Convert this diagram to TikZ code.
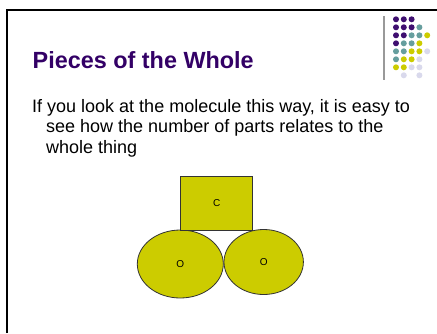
\documentclass[tikz,border=0pt]{standalone}
\usepackage{fontspec}
\setmainfont{Liberation Sans}
\usetikzlibrary{shapes.geometric}
\definecolor{slidePurple}{HTML}{330066}
\definecolor{dotPurple}{HTML}{3F0F70}
\definecolor{dotTeal}{HTML}{669E9E}
\definecolor{dotYellow}{HTML}{CCCC00}
\definecolor{dotLav}{HTML}{D9D9EC}
\definecolor{atomFill}{HTML}{CCCC00}

\begin{document}
\begin{tikzpicture}[x=1pt,y=-1pt,
  titleText/.style={anchor=base west,inner sep=0pt,text=slidePurple,font=\fontsize{23.4}{28}\selectfont\bfseries},
  bodyText/.style={anchor=base west,inner sep=0pt,font=\fontsize{18}{20}\selectfont},
  atomBox/.style={rectangle,draw=black!80,line width=0.8pt,fill=atomFill,inner sep=0pt,font=\fontsize{10}{12}\selectfont},
  atomBall/.style={ellipse,draw=black!80,line width=0.8pt,fill=atomFill,inner sep=0pt,font=\fontsize{10}{12}\selectfont}
]
\useasboundingbox[fill=white] (0,0) rectangle (437,333);
% slide frame and corner decoration
\draw[line width=2pt] (7,333) -- (7,10) -- (437,10);
\draw[line width=2pt,black!40] (384,16) -- (384,80);
\foreach \c/\r/\col in {1/1/dotPurple,2/1/dotPurple,3/1/dotPurple,
    1/2/dotPurple,2/2/dotPurple,3/2/dotPurple,4/2/dotTeal,
    1/3/dotPurple,2/3/dotPurple,3/3/dotTeal,4/3/dotTeal,5/3/dotYellow,
    1/4/dotPurple,2/4/dotTeal,3/4/dotTeal,4/4/dotYellow,
    1/5/dotTeal,2/5/dotTeal,3/5/dotYellow,4/5/dotYellow,5/5/dotLav,
    1/6/dotTeal,2/6/dotYellow,3/6/dotYellow,4/6/dotLav,
    1/7/dotYellow,2/7/dotYellow,3/7/dotLav,4/7/dotLav,
    2/8/dotLav,4/8/dotLav}
  \fill[\col] ({388.2+7.8*\c},{11.3+8*\r}) circle (3pt);
% text
\node[titleText] (title) at (32.5,68) {Pieces of the Whole};
\node[bodyText] (line1) at (32,112.3) {If you look at the molecule this way, it is easy to};
\node[bodyText] (line2) at (46,132.7) {see how the number of parts relates to the};
\node[bodyText] (line3) at (46,153.3) {whole thing};
% molecule
\node[atomBall,minimum width=86pt,minimum height=68pt] (oxyL) at (180.3,264) {O};
\node[atomBall,minimum width=79.4pt,minimum height=65pt] (oxyR) at (263.7,262) {O};
\node[atomBox,minimum width=72pt,minimum height=54pt] (carbon) at (216.7,203) {C};
\end{tikzpicture}
\end{document}
